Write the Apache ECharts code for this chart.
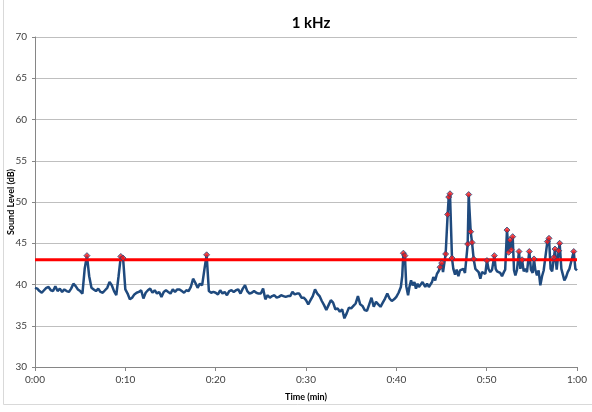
<!DOCTYPE html>
<html>
<head>
<meta charset="utf-8">
<script src="https://cdn.jsdelivr.net/npm/echarts@6/dist/echarts.min.js"></script>
<style>
html,body{margin:0;padding:0;background:#fff;}
#chart{width:592px;height:412px;}
</style>
</head>
<body>
<div id="chart"></div>
<script>
// Time in minutes, sound level in dB
var readings = [
[0,39.6],[0.25,39.5],[0.5,39.2],[0.75,39.0],[1,39.3],[1.25,39.6],[1.5,39.7],[1.75,39.3],[2,39.2],[2.25,39.8],[2.5,39.2],[2.75,39.5],[3,39.1],[3.25,39.4],[3.5,39.2],[3.75,39.1],[4,39.5],[4.25,40.1],[4.5,39.8],[4.75,39.4],
[5,39.2],[5.25,38.9],[5.5,41.9],[5.75,43.5],[6,41.0],[6.25,39.6],[6.5,39.4],[6.75,39.2],[7,39.5],[7.25,39.1],[7.5,39.0],[7.75,39.3],[8,39.6],[8.25,40.3],[8.5,39.9],[8.75,39.2],[9,38.7],[9.25,41.0],[9.5,43.4],[9.75,43.2],
[10,39.4],[10.25,38.9],[10.5,38.2],[10.75,38.4],[11,38.8],[11.25,39.0],[11.5,39.1],[11.75,39.3],[12,38.3],[12.25,39.0],[12.5,39.3],[12.75,39.5],[13,39.0],[13.25,39.3],[13.5,38.9],[13.75,39.1],[14,38.5],[14.25,39.1],[14.5,39.3],[14.75,39.1],
[15,38.9],[15.25,39.4],[15.5,39.1],[15.75,39.4],[16,39.4],[16.25,39.2],[16.5,39.0],[16.75,39.3],[17,39.2],[17.25,39.7],[17.5,40.7],[17.75,40.2],[18,39.6],[18.25,40.1],[18.5,39.9],[18.75,41.8],[19,43.6],[19.25,39.2],[19.5,39.0],[19.75,39.1],
[20,39.0],[20.25,38.8],[20.5,39.3],[20.75,38.9],[21,39.1],[21.25,38.7],[21.5,39.2],[21.75,39.3],[22,39.1],[22.25,39.3],[22.5,39.4],[22.75,38.9],[23,39.5],[23.25,39.9],[23.5,39.2],[23.75,38.9],[24,39.0],[24.25,39.2],[24.5,39.0],[24.75,38.9],
[25,38.9],[25.25,39.5],[25.5,38.2],[25.75,38.7],[26,38.4],[26.25,38.6],[26.5,38.7],[26.75,38.4],[27,38.5],[27.25,38.7],[27.5,38.6],[27.75,38.5],[28,38.6],[28.25,38.6],[28.5,39.1],[28.75,38.8],[29,38.9],[29.25,38.9],[29.5,38.4],[29.75,38.4],
[30,38.1],[30.25,37.6],[30.5,38.1],[30.75,38.6],[31,39.4],[31.25,38.9],[31.5,38.6],[31.75,38.0],[32,37.5],[32.25,36.9],[32.5,37.5],[32.75,38.1],[33,37.8],[33.25,37.0],[33.5,37.1],[33.75,36.7],[34,37.0],[34.25,35.9],[34.5,36.5],[34.75,37.2],
[35,37.1],[35.25,37.4],[35.5,37.7],[35.75,38.6],[36,37.6],[36.25,37.4],[36.5,36.9],[36.75,36.8],[37,37.6],[37.25,38.4],[37.5,37.3],[37.75,37.9],[38,37.6],[38.25,37.3],[38.5,37.8],[38.75,38.3],[39,38.9],[39.25,38.3],[39.5,38.0],[39.75,38.2],
[40,38.5],[40.25,39.0],[40.5,39.7],[40.65,41.0],[40.78,43.8],[40.95,43.5],[41.1,39.8],[41.3,38.7],[41.45,39.7],[41.63,40.5],[41.81,39.9],[42,40.3],[42.17,39.5],[42.35,40.1],[42.5,39.7],[42.7,39.9],[42.9,40.3],[43.05,40.5],[43.2,39.7],[43.4,40.1],
[43.6,39.7],[43.8,39.5],[43.95,40.3],[44.1,40.9],[44.3,40.5],[44.5,41.3],[44.68,41.6],[44.84,42.1],[45.02,42.6],[45.17,41.5],[45.32,41.7],[45.46,43.7],[45.68,48.5],[45.8,50.6],[45.94,51.0],[46.16,43.2],[46.31,41.9],[46.5,41.2],[46.68,41.8],[46.87,41.0],
[47.05,41.7],[47.23,41.6],[47.42,41.9],[47.6,41.4],[47.9,44.9],[48.01,50.9],[48.23,46.4],[48.38,45.1],[48.56,43.1],[48.75,41.9],[48.93,41.7],[49.11,41.5],[49.3,40.7],[49.48,41.5],[49.67,41.7],[49.85,41.3],[50.03,42.9],[50.2,41.9],[50.4,41.5],[50.6,41.8],
[50.85,43.5],[51.0,41.9],[51.15,41.6],[51.3,41.8],[51.5,41.4],[51.7,41.0],[51.9,41.5],[52.05,41.8],[52.25,46.6],[52.43,43.9],[52.58,45.4],[52.73,44.2],[52.88,45.8],[53.03,41.7],[53.18,41.1],[53.36,41.8],[53.58,44.0],[53.73,41.9],[53.92,43.0],[54.1,41.6],
[54.28,41.9],[54.46,41.5],[54.72,44.0],[54.9,41.8],[55.09,41.4],[55.24,43.1],[55.38,41.8],[55.57,41.1],[55.75,41.7],[55.94,39.9],[56.13,41.0],[56.31,41.7],[56.5,41.9],[56.72,45.2],[56.9,45.6],[57.08,41.9],[57.25,41.6],[57.45,43.3],[57.56,44.3],[57.75,41.8],
[57.97,44.1],[58.08,45.0],[58.27,41.9],[58.42,41.7],[58.6,40.5],[58.79,40.9],[58.97,41.5],[59.16,41.9],[59.35,41.8],[59.64,44.0],[59.82,41.9],[60,41.7]
];
var limitDb = 43;
var markerThreshold = 42;
var xTickLabels = ['0:00','0:10','0:20','0:30','0:40','0:50','1:00'];
var yTicks = [30,35,40,45,50,55,60,65,70];

var markers = readings.filter(function(p){ return p[1] >= markerThreshold; });

var chart = echarts.init(document.getElementById('chart'), null, {renderer:'canvas'});
var font = 'Lato, "Open Sans", "DejaVu Sans", sans-serif';
chart.setOption({
  animation:false,
  backgroundColor:'#fff',
  title:{
    text:'1 kHz', left:306, top:11, textAlign:'center',
    textStyle:{fontFamily:font, fontSize:15, fontWeight:'bold', color:'#000'}
  },
  grid:{left:35, right:15, top:37, bottom:45, containLabel:false, outerBoundsMode:'none'},
  xAxis:{
    type:'value', min:0, max:60, interval:10,
    name:'Time (min)', nameLocation:'middle', nameGap:26, nameMoveOverlap:false,
    nameTextStyle:{fontFamily:font, fontSize:9, fontWeight:'bold', color:'#000'},
    axisLine:{show:true, lineStyle:{color:'#868686', width:1}},
    axisTick:{show:true, length:4, lineStyle:{color:'#868686'}},
    axisLabel:{fontFamily:font, fontSize:10, color:'#404040', margin:8,
      formatter:function(v){ return xTickLabels[Math.round(v/10)]; }},
    splitLine:{show:false}
  },
  yAxis:{
    type:'value', min:yTicks[0], max:yTicks[yTicks.length-1], interval:5,
    name:'Sound Level (dB)', nameLocation:'middle', nameGap:19, nameRotate:90, nameMoveOverlap:false,
    nameTextStyle:{fontFamily:font, fontSize:9, fontWeight:'bold', color:'#000'},
    axisLine:{show:true, lineStyle:{color:'#868686', width:1}},
    axisTick:{show:true, inside:false, length:3, lineStyle:{color:'#868686'}},
    axisLabel:{fontFamily:font, fontSize:10, color:'#404040', margin:8},
    splitLine:{show:true, lineStyle:{color:'#bfbfbf', width:1}}
  },
  graphic:[
    {type:'line', shape:{x1:3.5,y1:0,x2:3.5,y2:404.5}, style:{stroke:'#d9d9d9', lineWidth:1}, silent:true},
    {type:'line', shape:{x1:3.5,y1:404.5,x2:592,y2:404.5}, style:{stroke:'#d9d9d9', lineWidth:1}, silent:true}
  ],
  series:[
    {
      type:'line', data:readings, showSymbol:false, smooth:false,
      lineStyle:{color:'#1f4a7e', width:2.5}, z:2
    },
    {
      type:'line', data:[[0,limitDb],[60,limitDb]], showSymbol:false,
      lineStyle:{color:'#ff0000', width:3}, z:3
    },
    {
      type:'scatter', data:markers, symbol:'diamond', symbolSize:6,
      itemStyle:{color:'#ff1a1a', borderColor:'#1f4a7e', borderWidth:1}, z:4
    }
  ]
});
</script>
</body>
</html>
